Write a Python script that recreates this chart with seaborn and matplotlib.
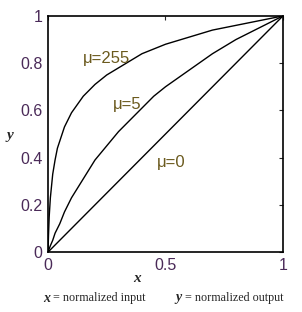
import numpy as np
import pandas as pd
import seaborn as sns
import matplotlib.pyplot as plt

# values (normalized input x -> output y)
x_vals = [0, 0.002, 0.005, 0.01, 0.02, 0.03, 0.04, 0.05, 0.07, 0.1, 0.15, 0.2, 0.25,
          0.3, 0.35, 0.4, 0.45, 0.5, 0.6, 0.7, 0.8, 0.9, 1.0]
y_mu255 = [0, 0.07, 0.15, 0.23, 0.33, 0.39, 0.44, 0.47, 0.53, 0.59, 0.66, 0.71, 0.75,
           0.78, 0.81, 0.84, 0.86, 0.88, 0.91, 0.94, 0.96, 0.98, 1.0]
y_mu5 = [0, 0.005, 0.014, 0.027, 0.05, 0.08, 0.10, 0.12, 0.17, 0.23, 0.31, 0.39, 0.45,
         0.51, 0.56, 0.61, 0.66, 0.70, 0.77, 0.84, 0.90, 0.95, 1.0]
y_mu0 = [0, 0.002, 0.005, 0.01, 0.02, 0.03, 0.04, 0.05, 0.07, 0.1, 0.15, 0.2, 0.25,
         0.3, 0.35, 0.4, 0.45, 0.5, 0.6, 0.7, 0.8, 0.9, 1.0]
mu_labels = ["\u03bc=255", "\u03bc=5", "\u03bc=0"]

df = pd.concat([
    pd.DataFrame({"x": x_vals, "y": y_mu255, "mu": mu_labels[0]}),
    pd.DataFrame({"x": x_vals, "y": y_mu5, "mu": mu_labels[1]}),
    pd.DataFrame({"x": x_vals, "y": y_mu0, "mu": mu_labels[2]}),
])

sns.set_style("white")
plt.rcParams["font.family"] = ["Liberation Sans", "DejaVu Sans"]

fig = plt.figure(figsize=(3.02, 3.12), dpi=100)
ax = fig.add_axes([0.159, 0.192, 0.778, 0.757])

sns.lineplot(data=df, x="x", y="y", units="mu", estimator=None, color="black",
             linewidth=1.0, sort=False, ax=ax)

ax.set_xlim(0, 1)
ax.set_ylim(0, 1)
ax.set_xticks([0, 0.5, 1])
ax.set_xticklabels(["0", "0.5", "1"])
ax.set_yticks([0, 0.2, 0.4, 0.6, 0.8, 1])
ax.set_yticklabels(["0", "0.2", "0.4", "0.6", "0.8", "1"])
tick_col = "#4a2a58"
ax.tick_params(direction="in", length=3, width=0.8, top=True, right=True,
               labelsize=11.5, labelcolor=tick_col, pad=4)
for s in ax.spines.values():
    s.set_color("black")
    s.set_linewidth(1.2)
ax.set_xlabel("")
ax.set_ylabel("")

lab_col = "#6b5a1e"
ax.text(0.149, 0.82, mu_labels[0], color=lab_col, fontsize=12, va="center")
ax.text(0.277, 0.627, mu_labels[1], color=lab_col, fontsize=12, va="center")
ax.text(0.464, 0.38, mu_labels[2], color=lab_col, fontsize=12, va="center")

serif = ["Liberation Serif", "DejaVu Serif"]
fig.text(137 / 302, 1 - 278 / 312, "x", family=serif, style="italic", weight="bold",
         fontsize=11, ha="center", va="center")
fig.text(10 / 302, 1 - 135 / 312, "y", family=serif, style="italic", weight="bold",
         fontsize=11, ha="center", va="center")
fig.text(43 / 302, 1 - 298 / 312, "x", family=serif, style="italic", weight="bold",
         fontsize=10, ha="left", va="center")
fig.text(53 / 302, 1 - 298 / 312, "= normalized input", family=serif, fontsize=8.7,
         ha="left", va="center")
fig.text(175 / 302, 1 - 298 / 312, "y", family=serif, style="italic", weight="bold",
         fontsize=10, ha="left", va="center")
fig.text(185 / 302, 1 - 298 / 312, "= normalized output", family=serif, fontsize=8.7,
         ha="left", va="center")

fig.savefig("out.png", dpi=100)
